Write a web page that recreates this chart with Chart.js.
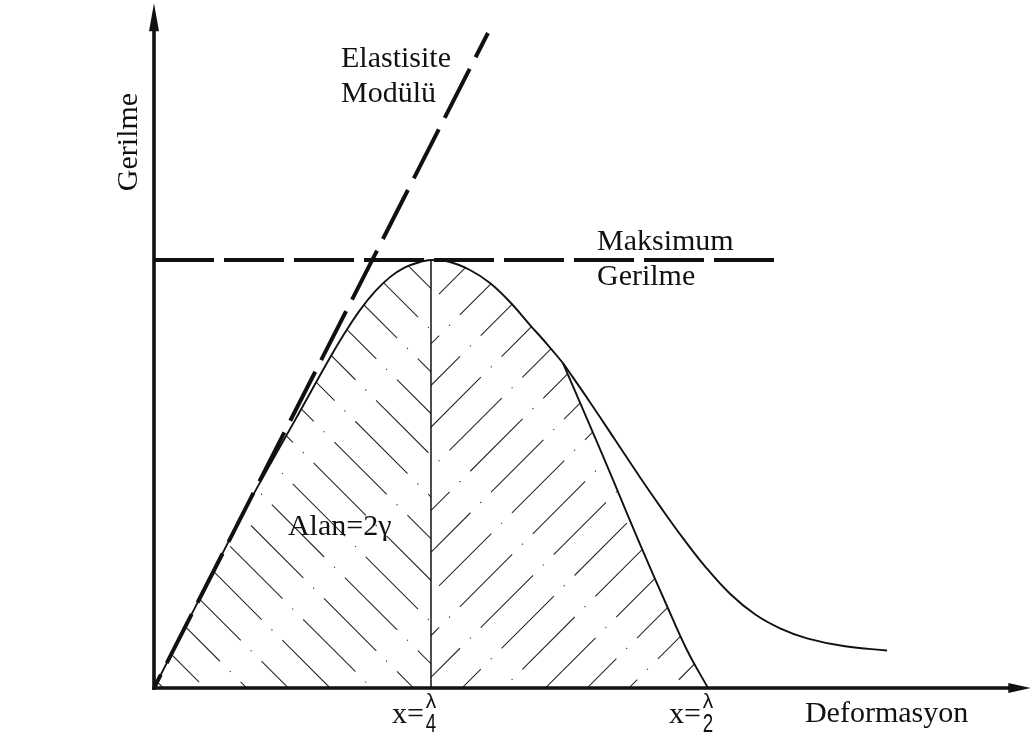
<!DOCTYPE html>
<html>
<head>
<meta charset="utf-8">
<script src="https://cdn.jsdelivr.net/npm/chart.js@4.4.1/dist/chart.umd.min.js"></script>
<style>
  html, body { margin: 0; padding: 0; background: #ffffff; }
  #wrap { width: 1032px; height: 737px; position: relative; }
</style>
</head>
<body>
<div id="wrap"><canvas id="chart"></canvas></div>
<script>
// Strain in units of wavelength λ, stress in units of the maximum stress.
const LAMBDA_QUARTER = 0.25;
const LAMBDA_HALF = 0.5;

// Rising branch of the stress–strain curve, through the peak to the branch point
const riseX = [0, 0.0415, 0.0776, 0.0957, 0.1273, 0.1588, 0.1724, 0.1859, 0.1995, 0.2130, 0.2265, 0.2401, 0.25,
               0.2671, 0.2852, 0.3032, 0.3213, 0.3394, 0.3547, 0.3691];
const riseY = [0, 0.2107, 0.3939, 0.4804, 0.6259, 0.7715, 0.8304, 0.8829, 0.9266, 0.9600, 0.9827, 0.9953, 1.0,
               0.9953, 0.9766, 0.9463, 0.9019, 0.8481, 0.8037, 0.7593];

// Closing edge of the shaded area, ending at x = λ/2
const boundX = [0.3691, 0.3917, 0.4143, 0.4386, 0.4630, 0.4810, 0.5];
const boundY = [0.7593, 0.6238, 0.4860, 0.3364, 0.1916, 0.0888, 0];

// Softening tail of the curve
const tailX = [0.3691, 0.3935, 0.4161, 0.4386, 0.4585, 0.4774, 0.4973, 0.5199, 0.5424, 0.5650, 0.5894, 0.6237, 0.6616];
const tailY = [0.7593, 0.6678, 0.5801, 0.4925, 0.4180, 0.3502, 0.2843, 0.2201, 0.1722, 0.1395, 0.1161, 0.0974, 0.0876];

// Elastic modulus line (initial tangent)
const modulusX = [0, 0.3014];
const modulusY = [0, 1.5304];

// Maximum stress level
const maxStressX = [0, 0.5614];
const maxStressY = [1, 1];

// Divider at x = λ/4
const dividerX = [0.25, 0.25];
const dividerY = [0, 1];

// Tick labels on the strain axis: x = λ / n
const tickValues = [LAMBDA_QUARTER, LAMBDA_HALF];
const tickDenoms = ['4', '2'];

const axisTitles = { x: 'Deformasyon', y: 'Gerilme' };
const noteTexts = [['Elastisite', 'Modülü'], ['Maksimum', 'Gerilme'], ['Alan=2γ']];

// ---- layout / style ----
const X_MAX = 0.79, Y_MAX = 1.6;
const notePos = [
  { x: 0.1688, y: 1.4516, lead: 35 },
  { x: 0.3998, y: 1.0234, lead: 35 },
  { x: 0.1209, y: 0.3575, lead: 0 }
];
const SERIF = '"Liberation Serif", "Times New Roman", serif';
const SANS = '"Liberation Sans", Arial, sans-serif';
const INK = '#111111';

const HATCH = { color: '#2b2b2b', width: 1.1, dash: [74, 14, 1.2, 14], gap: 41.7,
                leftPhase: 51, leftDot: 41.7, rightPhase: 308, rightDot: 52.1 };

const toPts = (xs, ys) => xs.map((x, i) => ({ x, y: ys[i] }));

const hatchCache = { key: null, pattern: null };
function hatchFill(chart) {
  const area = chart.chartArea;
  if (!area || !chart.scales.x) return 'rgba(0,0,0,0)';
  const key = chart.width + 'x' + chart.height + ':' + area.left + ',' + area.bottom;
  if (hatchCache.key === key) return hatchCache.pattern;
  const xs = chart.scales.x, ys = chart.scales.y;
  const ox = xs.getPixelForValue(0), oy = ys.getPixelForValue(0);
  const mid = xs.getPixelForValue(LAMBDA_QUARTER);
  const cv = document.createElement('canvas');
  cv.width = chart.width; cv.height = chart.height;
  const g = cv.getContext('2d');
  g.strokeStyle = HATCH.color;
  g.lineWidth = HATCH.width;
  g.setLineDash(HATCH.dash);
  const period = HATCH.dash.reduce((a, b) => a + b, 0);
  const r2 = Math.SQRT2;
  // sign < 0: "\" lines (X - Y = c); sign > 0: "/" lines (X + Y = c)
  const family = (x0, x1, sign, phase, dotAt) => {
    g.save();
    g.beginPath(); g.rect(x0, 0, x1 - x0, cv.height); g.clip();
    for (let k = -45; k <= 45; k++) {
      const c = phase + k * HATCH.gap;
      const s0 = dotAt - (HATCH.dash[0] + HATCH.dash[1]) - period * 12;
      const s1 = s0 + period * 24;
      const pt = s => sign < 0 ? [(c + s * r2) / 2, (s * r2 - c) / 2]
                               : [(c + s * r2) / 2, (c - s * r2) / 2];
      const a = pt(s0), b = pt(s1);
      g.beginPath();
      g.moveTo(ox + a[0], oy + a[1]);
      g.lineTo(ox + b[0], oy + b[1]);
      g.stroke();
    }
    g.restore();
  };
  family(0, mid, -1, HATCH.leftPhase, HATCH.leftDot);
  family(mid, cv.width, 1, HATCH.rightPhase, HATCH.rightDot);
  hatchCache.key = key;
  hatchCache.pattern = g.createPattern(cv, 'no-repeat');
  return hatchCache.pattern;
}

// Axes with arrowheads, drawn at the zero lines of the scales
const axesPlugin = {
  id: 'arrowAxes',
  afterDatasetsDraw(chart) {
    const { ctx, scales: { x, y } } = chart;
    const ox = x.getPixelForValue(0), oy = y.getPixelForValue(0);
    const xEnd = x.getPixelForValue(X_MAX), yEnd = y.getPixelForValue(Y_MAX);
    ctx.save();
    ctx.strokeStyle = INK; ctx.fillStyle = INK;
    ctx.lineWidth = 3.6;
    ctx.beginPath(); ctx.moveTo(ox, oy + 2); ctx.lineTo(ox, yEnd + 24); ctx.stroke();
    ctx.beginPath(); ctx.moveTo(ox - 1.8, oy); ctx.lineTo(xEnd - 18, oy); ctx.stroke();
    ctx.beginPath();
    ctx.moveTo(ox, yEnd); ctx.lineTo(ox - 5, yEnd + 28); ctx.lineTo(ox + 5, yEnd + 28); ctx.closePath(); ctx.fill();
    ctx.beginPath();
    ctx.moveTo(xEnd + 1.5, oy); ctx.lineTo(xEnd - 21, oy - 5); ctx.lineTo(xEnd - 21, oy + 5); ctx.closePath(); ctx.fill();
    ctx.restore();
  }
};

// Axis titles, tick labels and notes
const textPlugin = {
  id: 'diagramText',
  afterDraw(chart) {
    const { ctx, scales: { x, y } } = chart;
    const ox = x.getPixelForValue(0), oy = y.getPixelForValue(0);
    ctx.save();
    ctx.fillStyle = INK;
    ctx.textBaseline = 'alphabetic';
    ctx.font = '30px ' + SERIF;

    noteTexts.forEach((lines, i) => {
      const p = notePos[i];
      ctx.textAlign = 'left';
      lines.forEach((t, j) => ctx.fillText(t, x.getPixelForValue(p.x), y.getPixelForValue(p.y) + j * p.lead));
    });

    ctx.textAlign = 'left';
    ctx.fillText(axisTitles.x, x.getPixelForValue(0.5875), oy + 34);

    ctx.save();
    ctx.translate(ox - 17, y.getPixelForValue(1.2757));
    ctx.rotate(-Math.PI / 2);
    ctx.textAlign = 'center';
    ctx.fillText(axisTitles.y, 0, 0);
    ctx.restore();

    tickValues.forEach((v, i) => {
      const cx = x.getPixelForValue(v);
      ctx.font = '30px ' + SERIF;
      ctx.textAlign = 'right';
      ctx.fillText('x=', cx - 7, oy + 35);
      ctx.textAlign = 'center';
      ctx.font = '21px ' + SANS;
      ctx.fillText('λ', cx, oy + 20);
      ctx.save();
      ctx.translate(cx, 0);
      ctx.scale(0.72, 1);
      ctx.font = '26px ' + SANS;
      ctx.fillText(tickDenoms[i], 0, oy + 44);
      ctx.restore();
    });
    ctx.restore();
  }
};

const base = { pointRadius: 0, pointHoverRadius: 0, fill: false };
const smooth = { tension: 0.4, cubicInterpolationMode: 'default' };

new Chart(document.getElementById('chart'), {
  type: 'line',
  data: {
    datasets: [
      Object.assign({}, base, { label: 'Elastisite Modülü', data: toPts(modulusX, modulusY),
        borderColor: INK, borderWidth: 4, borderDash: [55, 13], borderDashOffset: 40, tension: 0, order: 1 }),
      Object.assign({}, base, { label: 'Maksimum Gerilme', data: toPts(maxStressX, maxStressY),
        borderColor: INK, borderWidth: 4, borderDash: [60, 10], tension: 0, order: 2 }),
      Object.assign({}, base, { label: 'λ/4', data: toPts(dividerX, dividerY),
        borderColor: INK, borderWidth: 1.5, tension: 0, order: 3 }),
      Object.assign({}, base, smooth, { label: 'Gerilme', data: toPts(riseX, riseY),
        borderColor: INK, borderWidth: 1.9,
        fill: 'origin', backgroundColor: ctx => hatchFill(ctx.chart), order: 4 }),
      Object.assign({}, base, smooth, { label: 'Alan', data: toPts(boundX, boundY),
        borderColor: INK, borderWidth: 1.9,
        fill: 'origin', backgroundColor: ctx => hatchFill(ctx.chart), order: 5 }),
      Object.assign({}, base, smooth, { label: 'Kuyruk', data: toPts(tailX, tailY),
        borderColor: INK, borderWidth: 1.9, order: 6 })
    ]
  },
  options: {
    responsive: true,
    maintainAspectRatio: false,
    animation: false,
    events: [],
    layout: { padding: { left: 154, right: 2.7, top: 3.2, bottom: 49 } },
    scales: {
      x: { type: 'linear', min: 0, max: X_MAX, display: false },
      y: { type: 'linear', min: 0, max: Y_MAX, display: false }
    },
    plugins: {
      legend: { display: false },
      tooltip: { enabled: false },
      filler: { propagate: false }
    }
  },
  plugins: [axesPlugin, textPlugin]
});
</script>
</body>
</html>
